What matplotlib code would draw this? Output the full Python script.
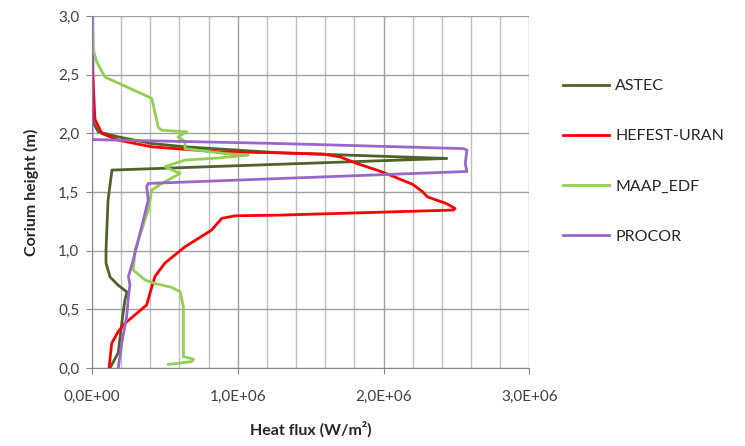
import numpy as np
import matplotlib.pyplot as plt
from matplotlib.ticker import MultipleLocator, FuncFormatter

plt.rcParams['font.family'] = ['Lato', 'DejaVu Sans']

# heat flux in 1e6 W/m2, corium height in m
astec_x = [0.005, 0.006, 0.009, 0.043, 0.18, 0.41, 0.64, 1.29, 2.434, 0.137, 0.11,
           0.096, 0.096, 0.124, 0.178, 0.24, 0.226, 0.204, 0.18, 0.124]
astec_y = [3.0, 2.5, 2.09, 2.013, 1.97, 1.913, 1.885, 1.834, 1.786, 1.687, 1.43,
           1.005, 0.894, 0.775, 0.707, 0.647, 0.58, 0.38, 0.13, 0.0]

hefest_x = [0.003, 0.009, 0.02, 0.067, 0.18, 0.41, 0.866, 1.29, 1.587, 1.70, 1.817,
            1.954, 2.045, 2.20, 2.27, 2.30, 2.434, 2.49, 2.48, 1.29, 0.98, 0.89,
            0.82, 0.638, 0.50, 0.432, 0.41, 0.375, 0.226, 0.18, 0.135, 0.117]
hefest_y = [2.55, 2.40, 2.12, 2.0, 1.942, 1.885, 1.843, 1.834, 1.823, 1.80, 1.743,
            1.687, 1.644, 1.565, 1.50, 1.459, 1.40, 1.36, 1.346, 1.303, 1.297, 1.275,
            1.175, 1.033, 0.894, 0.78, 0.69, 0.537, 0.38, 0.31, 0.21, 0.0]

maap_x = [0.002, 0.009, 0.032, 0.089, 0.364, 0.41, 0.455, 0.478, 0.65, 0.59, 0.638,
          0.638, 0.913, 1.07, 0.866, 0.638, 0.50, 0.604, 0.478, 0.41, 0.386, 0.295,
          0.283, 0.364, 0.432, 0.547, 0.604, 0.627, 0.627, 0.695, 0.684, 0.524]
maap_y = [2.99, 2.71, 2.61, 2.48, 2.325, 2.297, 2.05, 2.027, 2.013, 1.97, 1.93,
          1.87, 1.828, 1.814, 1.79, 1.772, 1.716, 1.658, 1.573, 1.516, 1.346, 1.005,
          0.835, 0.75, 0.72, 0.687, 0.65, 0.52, 0.096, 0.075, 0.054, 0.03]

procor_x = [0.0, 0.0, 0.009, 1.29, 2.548, 2.572, 2.56, 2.572, 1.29, 0.386, 0.375,
            0.386, 0.283, 0.25, 0.26, 0.25, 0.238, 0.204, 0.18]
procor_y = [3.0, 1.955, 1.947, 1.913, 1.87, 1.857, 1.743, 1.675, 1.615, 1.573, 1.545,
            1.43, 0.92, 0.78, 0.707, 0.61, 0.44, 0.21, 0.0]

names = ['ASTEC', 'HEFEST-URAN', 'MAAP_EDF', 'PROCOR']
colors = ['#4F6228', '#FF0000', '#92D050', '#9966CC']
series = [(astec_x, astec_y), (hefest_x, hefest_y), (maap_x, maap_y), (procor_x, procor_y)]

fig = plt.figure(figsize=(7.45, 4.46), dpi=100)
ax = fig.add_axes([0.1235, 0.175, 0.587, 0.789])

for (xs, ys), name, c in zip(series, names, colors):
    ax.plot(np.array(xs) * 1e6, ys, color=c, lw=2.0, label=name,
            solid_joinstyle='round', zorder=3)

ax.set_xlim(0, 3e6)
ax.set_ylim(0, 3.0)
ax.xaxis.set_major_locator(MultipleLocator(1e6))
ax.xaxis.set_minor_locator(MultipleLocator(2e5))
ax.yaxis.set_major_locator(MultipleLocator(0.5))
ax.xaxis.set_major_formatter(FuncFormatter(lambda v, p: ('%.1fE+%02d' % (v / 1e6, 6) if v else '0,0E+00').replace('.', ',')))
ax.yaxis.set_major_formatter(FuncFormatter(lambda v, p: ('%.1f' % v).replace('.', ',')))

ax.grid(which='major', color='#A0A0A0', lw=1.0)
ax.grid(which='minor', axis='x', color='#BFBFBF', lw=1.0)
for s in ['top', 'right']:
    ax.spines[s].set_visible(False)
for s in ['left', 'bottom']:
    ax.spines[s].set_color('#868686')
ax.tick_params(which='major', length=4, color='#868686', labelsize=11, colors='#404040')
ax.tick_params(which='minor', length=0)
ax.tick_params(axis='x', pad=12)
ax.tick_params(axis='y', pad=5)

ax.set_xlabel('Heat flux (W/m²)', fontsize=11.5, fontweight='bold', color='#262626', labelpad=12)
ax.set_ylabel('Corium height (m)', fontsize=11.5, fontweight='bold', color='#262626', labelpad=14)

fig.legend(loc='upper left', bbox_to_anchor=(0.736, 0.855), frameon=False,
           fontsize=11.5, handlelength=2.9, labelspacing=2.25, handletextpad=0.4)
for t in fig.legends[0].get_texts():
    t.set_color('#262626')

fig.savefig('out.png', dpi=100)
